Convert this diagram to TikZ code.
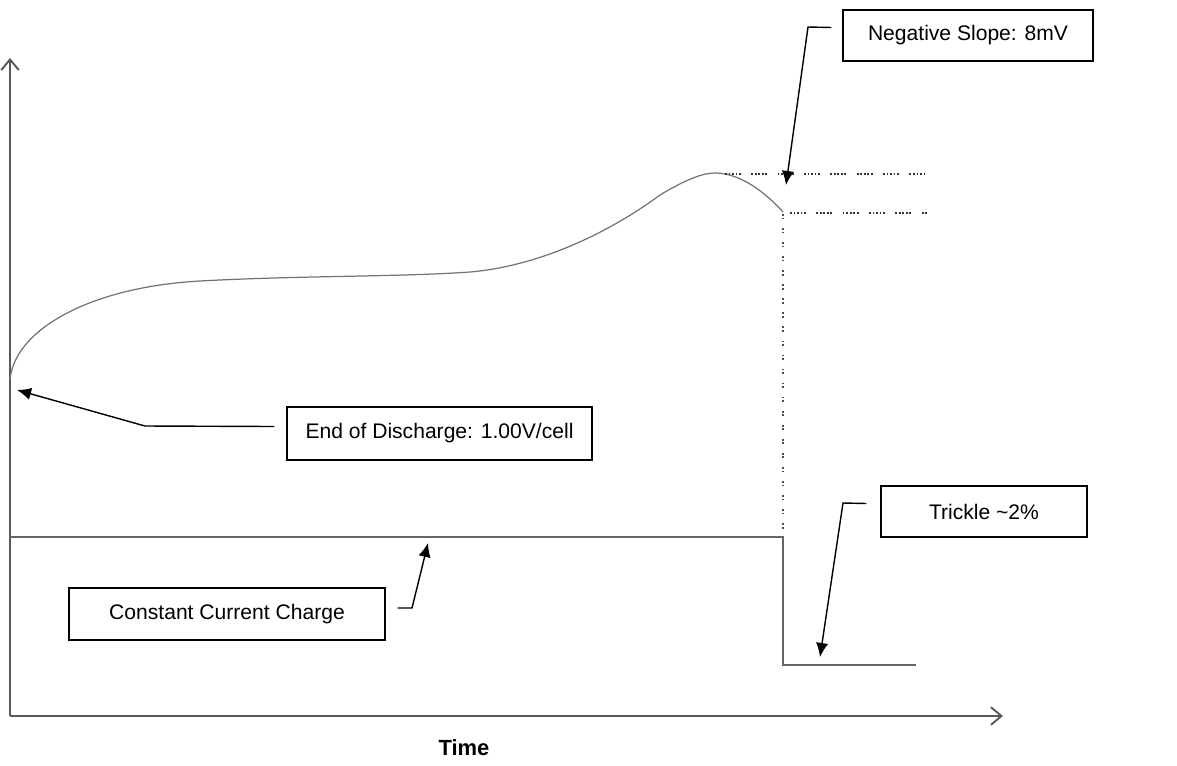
\documentclass[tikz,border=0pt]{standalone}
\usepackage{fontspec}
\setmainfont{Liberation Sans}
\usetikzlibrary{arrows.meta,calc}

\tikzset{
	txtbox/.style={draw=black,line width=0.8pt,font=\fontsize{12}{14}\selectfont,inner sep=0pt},
	callout/.style={line width=0.8pt,-{Latex[length=8pt,width=7pt]}},
	axisline/.style={line width=1.1pt,black!65,-{Straight Barb[length=6pt,width=10pt]}},
	groupdots/.style={line width=0.9pt,black!80,dash pattern=on 1pt off 1pt on 1pt off 1pt on 1pt off 1pt on 1pt off 1pt on 1pt off 6pt},
}

\begin{document}
\begin{tikzpicture}[x=0.02cm,y=-0.02cm,>=latex]
	\useasboundingbox (0,0) rectangle (1177,765);
	
	% Draw the axes
	\coordinate (orig) at (10,716);
	\draw[axisline] (orig) -- (10,58);
	\draw[axisline] (orig) -- (1003,716);
	\node[font=\bfseries\fontsize{12.5}{14}\selectfont] (timelbl) at (464,748) {Time};
	
	% Draw the voltage curve
	\draw[black!55,line width=0.7pt] (10,380)
		.. controls (14,330) and (90,287) .. (200,281)
		.. controls (300,275.5) and (400,277) .. (470,272)
		.. controls (540,266) and (610,232) .. (660,195)
		.. controls (690,177) and (705,173) .. (715,173)
		.. controls (740,173) and (765,192) .. (783,212);
	
	% Peak and drop levels
	\draw[groupdots] (725,174) -- (927,174);
	\draw[groupdots] (790,213) -- (927,213);
	\draw[line width=0.9pt,black!70,dash pattern=on 1pt off 1pt on 1pt off 5pt] (783,214) -- (783,537);
	
	% Draw the charge current
	\draw[black!60,line width=0.8pt] (10,537) -- (783,537) -- (783,665) -- (916,665);
	
	% Labels
	\node[txtbox,minimum width=5cm,minimum height=1.02cm] (nslope) at (968,35.5) {Negative Slope: 8mV};
	\node[txtbox,minimum width=6.1cm,minimum height=1.06cm] (eod) at (439.5,433.5) {End of Discharge: 1.00V/cell};
	\node[txtbox,minimum width=6.32cm,minimum height=1.04cm] (ccc) at (227,614) {Constant Current Charge};
	\node[txtbox,minimum width=4.12cm,minimum height=1.02cm] (trickle) at (984,511.5) {Trickle \textasciitilde2\%};
	
	\coordinate (nstip) at (786,185);
	\coordinate (eodtip) at (17,390);
	\coordinate (ccctip) at (428,543);
	\coordinate (trtip) at (820,657);
	
	% Draw the pointers
	\draw[callout] ($(nslope.west)+(-11,-8)$) -- (808,27) -- (nstip);
	\draw[callout] ($(eod.west)+(-12,-7)$) -- (145,426) -- (eodtip);
	\draw[callout] ($(ccc.east)+(12,-6)$) -- (412,608) -- (ccctip);
	\draw[callout] ($(trickle.west)+(-14,-8)$) -- (843,503) -- (trtip);

\end{tikzpicture}
\end{document}
